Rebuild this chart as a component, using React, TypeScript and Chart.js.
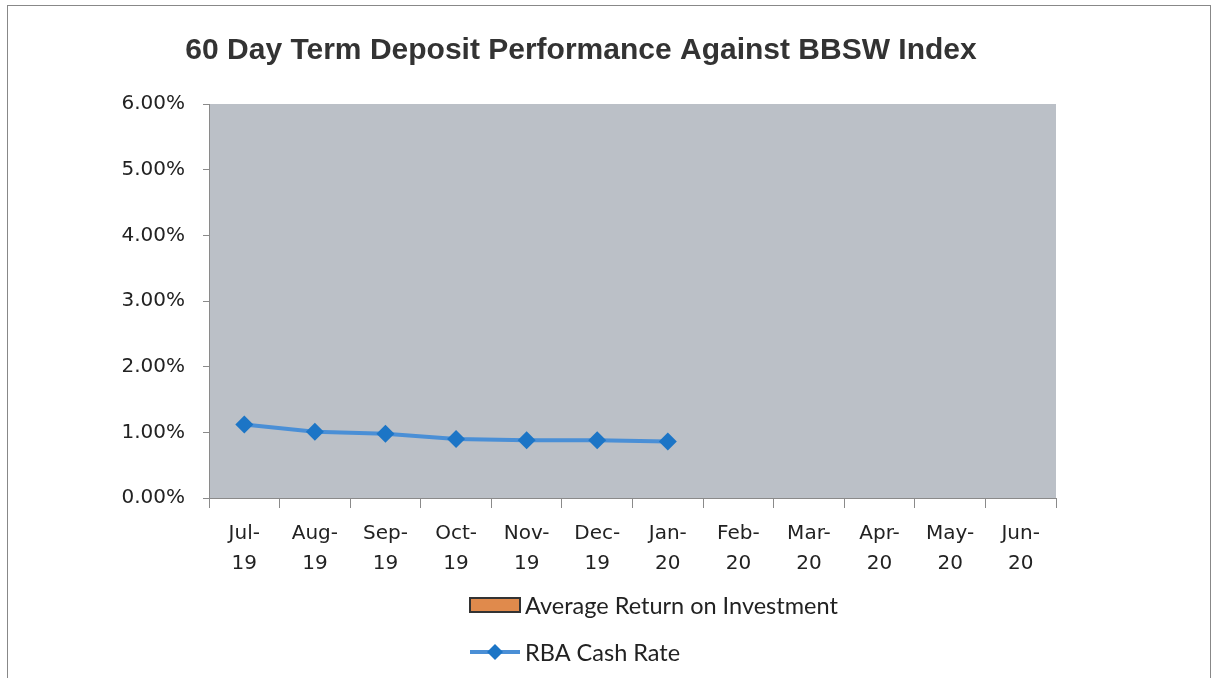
import React, { useEffect, useRef } from "react";
import { Chart, registerables } from "chart.js";

Chart.register(...registerables);

const titleText = "60 Day Term Deposit Performance Against BBSW Index";
const months = [
  ["Jul-", "19"], ["Aug-", "19"], ["Sep-", "19"], ["Oct-", "19"], ["Nov-", "19"], ["Dec-", "19"],
  ["Jan-", "20"], ["Feb-", "20"], ["Mar-", "20"], ["Apr-", "20"], ["May-", "20"], ["Jun-", "20"],
];
const avgReturn: (number | null)[] = [null, null, null, null, null, null, null, null, null, null, null, null];
const rbaCashRate: (number | null)[] = [1.12, 1.01, 0.98, 0.9, 0.88, 0.88, 0.86, null, null, null, null, null];
const yTicks = { min: 0, max: 6, step: 1 };

const PLOT_BG = "#BBC0C7";
const AXIS = "#8a8a8a";
const LINE = "#4A8FD6";
const POINT = "#1C75C6";
const BAR = "#E08A4C";

const bgPlugin = {
  id: "plotBg",
  beforeDraw(chart: any) {
    const { ctx, chartArea } = chart;
    ctx.save();
    ctx.fillStyle = PLOT_BG;
    ctx.fillRect(chartArea.left, chartArea.top, chartArea.right - chartArea.left, chartArea.bottom - chartArea.top);
    ctx.restore();
  },
};

const titlePlugin = {
  id: "customTitle",
  afterDraw(chart: any) {
    const { ctx } = chart;
    ctx.save();
    ctx.font = "bold 30px 'Liberation Sans', Arial, sans-serif";
    ctx.fillStyle = "#333333";
    ctx.textAlign = "center";
    ctx.textBaseline = "middle";
    ctx.fillText(titleText, 573, 45);
    ctx.restore();
  },
};

const legendPlugin = {
  id: "customLegend",
  afterDraw(chart: any) {
    const { ctx } = chart;
    const ds = chart.data.datasets;
    const x0 = 462;
    ctx.save();
    ctx.font = "23.5px Lato, 'Open Sans', sans-serif";
    ctx.fillStyle = "#222222";
    ctx.textBaseline = "middle";
    let y = 599;
    ctx.fillStyle = ds[0].backgroundColor;
    ctx.fillRect(x0, y - 7, 50, 14);
    ctx.strokeStyle = "#333";
    ctx.lineWidth = 2;
    ctx.strokeRect(x0, y - 7, 50, 14);
    ctx.fillStyle = "#222222";
    ctx.fillText(ds[0].label, x0 + 55, y + 1);
    y = 646;
    ctx.strokeStyle = ds[1].borderColor;
    ctx.lineWidth = 4;
    ctx.beginPath();
    ctx.moveTo(x0, y);
    ctx.lineTo(x0 + 50, y);
    ctx.stroke();
    ctx.fillStyle = ds[1].pointBackgroundColor;
    ctx.beginPath();
    ctx.moveTo(x0 + 25, y - 8);
    ctx.lineTo(x0 + 33, y);
    ctx.lineTo(x0 + 25, y + 8);
    ctx.lineTo(x0 + 17, y);
    ctx.closePath();
    ctx.fill();
    ctx.fillStyle = "#222222";
    ctx.fillText(ds[1].label, x0 + 55, y + 1);
    ctx.restore();
  },
};

export default function App() {
  const ref = useRef<HTMLCanvasElement | null>(null);
  useEffect(() => {
    if (!ref.current) return;
    const tickFont = { family: "'DejaVu Sans', Verdana, sans-serif", size: 20 };
    const chart = new Chart(ref.current, {
      type: "bar",
      data: {
        labels: months,
        datasets: [
          {
            type: "bar",
            label: "Average Return on Investment",
            data: avgReturn,
            backgroundColor: BAR,
            borderColor: "#333",
            borderWidth: 1,
            order: 2,
          },
          {
            type: "line",
            label: "RBA Cash Rate",
            data: rbaCashRate,
            borderColor: LINE,
            borderWidth: 4,
            pointStyle: "rectRot",
            pointRadius: 9,
            pointBackgroundColor: POINT,
            pointBorderColor: POINT,
            pointBorderWidth: 0,
            spanGaps: false,
            tension: 0,
            order: 1,
          } as any,
        ],
      },
      options: {
        animation: false,
        responsive: false,
        maintainAspectRatio: false,
        layout: { padding: { left: 0, right: 154, top: 98, bottom: 100 } },
        plugins: { legend: { display: false }, title: { display: false }, tooltip: { enabled: false } },
        scales: {
          x: {
            offset: true,
            grid: { display: true, drawOnChartArea: false, drawTicks: true, tickLength: 10, color: AXIS, offset: true },
            border: { display: true, color: AXIS, width: 1 },
            ticks: { font: { ...tickFont, lineHeight: 1.5 }, color: "#222", padding: 11, maxRotation: 0, autoSkip: false },
            afterFit(scale: any) { scale.height = 80; },
          },
          y: {
            min: yTicks.min,
            max: yTicks.max,
            grid: { display: true, drawOnChartArea: false, drawTicks: true, tickLength: 6, color: AXIS },
            border: { display: true, color: AXIS, width: 1 },
            ticks: {
              stepSize: yTicks.step,
              font: tickFont,
              color: "#222",
              padding: 18,
              callback: (v: any) => Number(v).toFixed(2) + "%",
            },
            afterFit(scale: any) { scale.width = 201; },
          },
        },
      },
      plugins: [bgPlugin, titlePlugin, legendPlugin],
    });
    return () => chart.destroy();
  }, []);
  return (
    <div style={{ position: "absolute", left: 7, top: 5, width: 1202, height: 672, border: "1px solid #888", borderBottom: "none", background: "#fff" }}>
      <canvas ref={ref} width={1202} height={672} style={{ display: "block" }} />
    </div>
  );
}
